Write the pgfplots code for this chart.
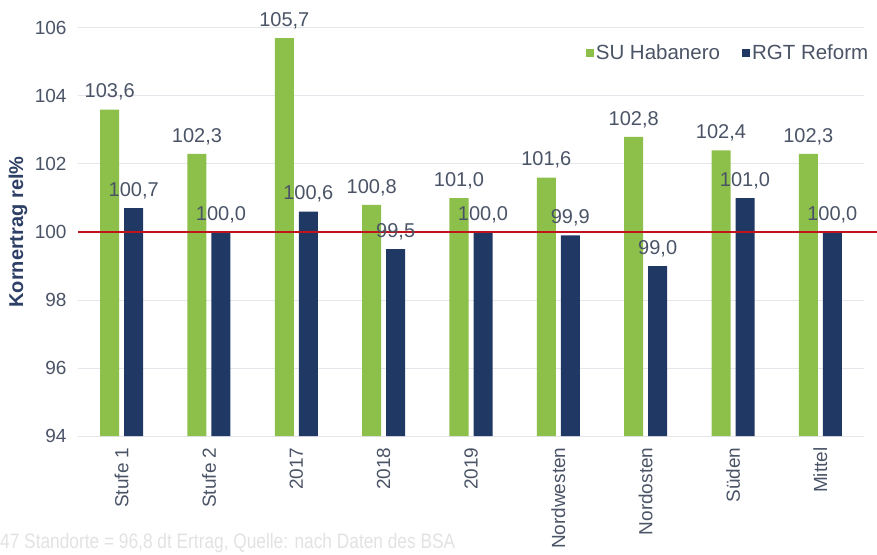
\documentclass[border=0pt]{standalone}
\usepackage{fontspec}
\setmainfont{Liberation Sans}
\usepackage{graphicx}
\usepackage{pgfplots}
\pgfplotsset{compat=1.18}
\usetikzlibrary{calc}
\definecolor{cgreen}{HTML}{8DC04B}
\definecolor{cnavy}{HTML}{1F3864}
\definecolor{ctext}{HTML}{4A5466}
\definecolor{clabel}{HTML}{2E3F66}
\definecolor{cgrid}{HTML}{E3E6EA}
\definecolor{cred}{HTML}{C0141C}
\definecolor{cfoot}{HTML}{E2E2E2}
\begin{document}
\begin{tikzpicture}
\begin{axis}[
  name=ax, at={(0,0)}, anchor=south west,
  scale only axis, width=786pt, height=408pt,
  xmin=-0.5, xmax=8.5, ymin=94, ymax=106,
  ytick={94,96,...,106},
  xtick={0,...,8},
  xticklabels={Stufe 1,Stufe 2,2017,2018,2019,Nordwesten,Nordosten,Süden,Mittel},
  /pgf/number format/assume math mode=true,
  xticklabel style={yshift=-8pt, rotate=90, anchor=east, font=\fontsize{19}{21}\selectfont, text=ctext},
  yticklabel style={xshift=-8pt, font=\fontsize{19}{21}\selectfont, text=ctext},
  axis line style={draw=none}, major tick length=0pt,
  ymajorgrids, grid style={cgrid, line width=1pt},
  ybar=5pt, bar width=19pt,
  clip=false,
  every axis y label/.style={at={(rel axis cs:0,0.5)}, xshift=-60pt, rotate=90, anchor=center},
  ylabel={\fontsize{20}{22}\selectfont\bfseries Kornertrag rel\%},
  ylabel style={text=clabel},
  nodes near coords={\pgfmathprintnumber[fixed,fixed zerofill,precision=1,use comma,assume math mode=true]{\pgfplotspointmeta}},
  every node near coord/.append style={font=\fontsize{20}{22}\selectfont, text=ctext, inner sep=3pt, yshift=6pt},
  legend style={at={(rel axis cs:1.012,0.939)}, anchor=east, draw=none, fill=none,
    legend columns=2, font=\fontsize{20.5}{22}\selectfont, text=ctext,
    /tikz/every even column/.append style={column sep=20pt}},
  legend image code/.code={\fill[#1,draw=none] (-2pt,-4pt) rectangle (6pt,4pt);},
]
\addplot[fill=cgreen, draw=none] coordinates {(0,103.6) (1,102.3) (2,105.7) (3,100.8) (4,101.0) (5,101.6) (6,102.8) (7,102.4) (8,102.3)};
\addlegendentry{SU Habanero}
\addplot[fill=cnavy, draw=none] coordinates {(0,100.7) (1,100.0) (2,100.6) (3,99.5) (4,100.0) (5,99.9) (6,99.0) (7,101.0) (8,100.0)};
\addlegendentry{RGT Reform}
\draw[cred, line width=2pt] (axis cs:-0.5,100) -- (axis cs:8.67,100);
\end{axis}
\node[anchor=west, inner sep=0pt, text=cfoot] at ($(ax.south west)+(-78pt,-107.5pt)$)
  {\resizebox{455pt}{\height}{\fontsize{21}{21}\selectfont 47 Standorte = 96,8 dt Ertrag, Quelle: nach Daten des BSA}};
\pgfresetboundingbox
\path[use as bounding box] ($(ax.south west)+(-78pt,-118pt)$) rectangle ($(ax.south west)+(799pt,436pt)$);
\end{tikzpicture}
\end{document}
